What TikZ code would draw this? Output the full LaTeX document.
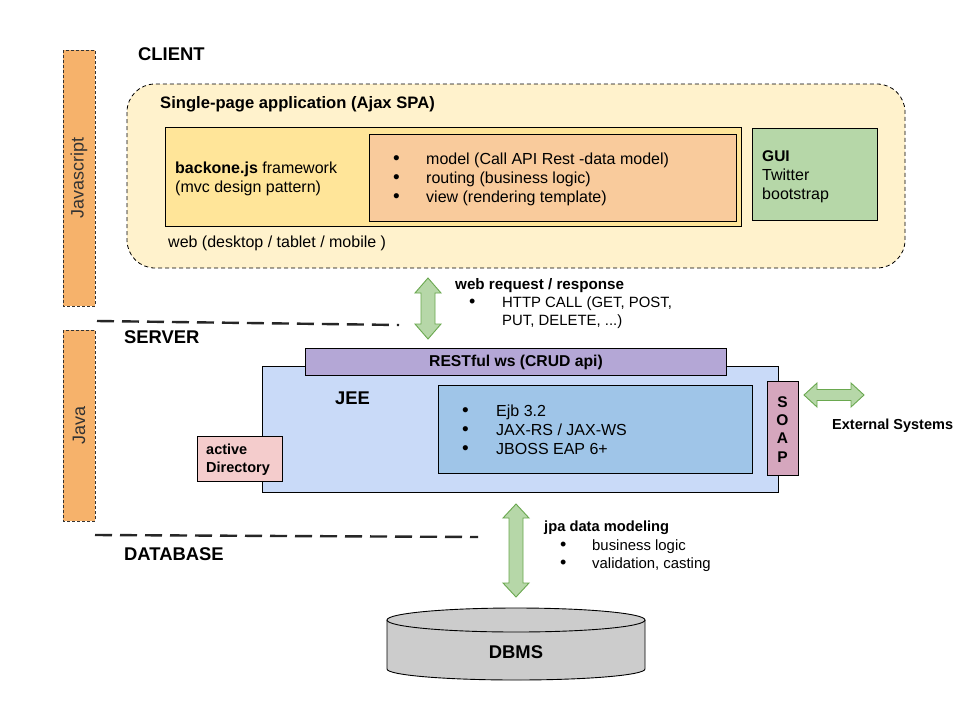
\documentclass[tikz,border=0pt]{standalone}
\usepackage{fontspec}
\setmainfont{Liberation Sans}
\definecolor{clientfill}{HTML}{FFF2CC}
\definecolor{bbfill}{HTML}{FFE599}
\definecolor{listfill}{HTML}{F9CB9C}
\definecolor{guifill}{HTML}{B6D7A8}
\definecolor{jeefill}{HTML}{C9DAF8}
\definecolor{ejbfill}{HTML}{9FC5E8}
\definecolor{restfill}{HTML}{B4A7D6}
\definecolor{soapfill}{HTML}{D5A6BD}
\definecolor{adfill}{HTML}{F4CCCC}
\definecolor{barfill}{HTML}{F6B26B}
\definecolor{dbfill}{HTML}{CCCCCC}
\definecolor{arrfill}{HTML}{B6D7A8}
\definecolor{arrline}{HTML}{6AA84F}
\definecolor{bartext}{HTML}{333333}
\tikzset{
  box/.style={draw=black, line width=0.9pt, inner sep=0},
  txt/.style={inner sep=0, anchor=base west, font=\fontsize{14.9}{17}\selectfont},
  ltxt/.style={inner sep=0, anchor=base west, font=\fontsize{16}{17}\selectfont},
  bul/.style={inner sep=0, anchor=base west, font=\fontsize{19}{17}\selectfont},
  btxt/.style={inner sep=0, anchor=base west, font=\fontsize{14.5}{17}\selectfont\bfseries},
  htxt/.style={inner sep=0, anchor=base west, font=\fontsize{18.4}{20}\selectfont\bfseries},
  bartxt/.style={inner sep=0, rotate=90, text=bartext, font=\fontsize{18}{20}\selectfont},
  bar/.style={draw=black!80, fill=barfill, dashed, dash pattern=on 3pt off 2pt, line width=0.8pt},
  sepline/.style={draw=black!85, line width=2.4pt, dash pattern=on 17pt off 8pt},
  blockarrow/.style={draw=arrline, fill=arrfill, line width=0.9pt, line join=miter},
}
\begin{document}
\begin{tikzpicture}[x=1pt,y=-1pt]
\useasboundingbox (0,0) rectangle (960,720);
\fill[white] (0,0) rectangle (960,720);

% side bars
\draw[bar] (63,50) rectangle (95,306);
\node[bartxt] (js) at (79,178) {Javascript};
\draw[bar] (63,330) rectangle (95,521);
\node[bartxt] (java) at (79,425) {Java};

% section titles
\node[htxt] (client) at (138,60.5) {CLIENT};
\node[htxt] (server) at (124,343.5) {SERVER};
\node[htxt] (database) at (124,560.5) {DATABASE};

% client box
\draw[fill=clientfill, draw=black, line width=0.8pt, dash pattern=on 4pt off 3pt, rounded corners=28pt] (127,84) rectangle (905,268);
\node[btxt, font=\fontsize{16.6}{17}\selectfont\bfseries] (spa) at (160,108.5) {Single-page application (Ajax SPA)};

\node[box, fill=bbfill, minimum width=576, minimum height=99, anchor=north west] (bb) at (165,127) {};
\node[box, fill=listfill, minimum width=367, minimum height=87, anchor=north west] (mvc) at (369,134) {};
\node[ltxt] (bb1) at (175,173) {\textbf{backone.js} framework};
\node[ltxt] (bb2) at (175,192) {(mvc design pattern)};
\node[bul] (mb1) at (393,164) {•};
\node[bul] (mb2) at (393,183) {•};
\node[bul] (mb3) at (393,202) {•};
\node[ltxt] (m1) at (426,164) {model (Call API Rest -data model)};
\node[ltxt] (m2) at (426,183) {routing (business logic)};
\node[ltxt] (m3) at (426,202) {view (rendering template)};

\node[box, fill=guifill, minimum width=125, minimum height=92, anchor=north west] (gui) at (752,128) {};
\node[btxt, font=\fontsize{15.5}{17}\selectfont\bfseries] (g1) at (762,161.5) {GUI};
\node[ltxt] (g2) at (762,180.5) {Twitter};
\node[ltxt] (g3) at (762,199.5) {bootstrap};

\node[ltxt] (web) at (168,247.5) {web (desktop / tablet / mobile )};

% arrow client-server
\draw[blockarrow] (421,293) -- (415,293) -- (428,278) -- (441,293) -- (435,293) -- (435,324) -- (441,324) -- (428,339) -- (415,324) -- (421,324) -- cycle;
\node[btxt, font=\fontsize{15.2}{17}\selectfont\bfseries] (wr) at (455,289) {web request / response};
\node[bul, font=\fontsize{18}{17}\selectfont] (wb) at (469,307) {•};
\node[txt] (w1) at (502,307) {HTTP CALL (GET, POST,};
\node[txt] (w2) at (502,325) {PUT, DELETE, ...)};

% separators
\coordinate (s1a) at (97,321);
\coordinate (s1b) at (399,325);
\draw[sepline] (s1a) -- (s1b);
\coordinate (s2a) at (95,535);
\coordinate (s2b) at (478,537);
\draw[sepline] (s2a) -- (s2b);

% server
\node[box, fill=jeefill, minimum width=516, minimum height=126, anchor=north west] (jee) at (262,366) {};
\node[box, fill=restfill, minimum width=421, minimum height=27, anchor=north west, font=\fontsize{15.7}{17}\selectfont\bfseries] (rest) at (305,348) {RESTful ws (CRUD api)};
\node[htxt] (jeet) at (335,404.5) {JEE};
\node[box, fill=ejbfill, minimum width=314, minimum height=88, anchor=north west] (ejb) at (438,385) {};
\node[bul] (eb1) at (462,416.5) {•};
\node[bul] (eb2) at (462,435.5) {•};
\node[bul] (eb3) at (462,454.5) {•};
\node[ltxt] (e1) at (496,416.5) {Ejb 3.2};
\node[ltxt] (e2) at (496,435.5) {JAX-RS / JAX-WS};
\node[ltxt] (e3) at (496,454.5) {JBOSS EAP 6+};

\node[box, fill=soapfill, minimum width=31, minimum height=94, anchor=north west] (soap) at (767,381) {};
\node[btxt, anchor=base, font=\fontsize{15.5}{17}\selectfont\bfseries] (sS) at (782.5,407.5) {S};
\node[btxt, anchor=base, font=\fontsize{15.5}{17}\selectfont\bfseries] (sO) at (782.5,425.5) {O};
\node[btxt, anchor=base, font=\fontsize{15.5}{17}\selectfont\bfseries] (sA) at (782.5,443.5) {A};
\node[btxt, anchor=base, font=\fontsize{15.5}{17}\selectfont\bfseries] (sP) at (782.5,462) {P};

\node[box, fill=adfill, minimum width=85, minimum height=45, anchor=north west] (ad) at (197,436) {};
\node[btxt] (ad1) at (206,454.5) {active};
\node[btxt] (ad2) at (206,472.5) {Directory};

% external
\draw[blockarrow] (804,395) -- (817,383) -- (817,389.5) -- (851,389.5) -- (851,383) -- (864,395) -- (851,407) -- (851,400.5) -- (817,400.5) -- (817,407) -- cycle;
\node[btxt] (ext) at (832,429.5) {External Systems};

% arrow server-db
\draw[blockarrow] (509,518) -- (503,518) -- (516,504) -- (529,518) -- (523,518) -- (523,583) -- (529,583) -- (516,597) -- (503,583) -- (509,583) -- cycle;
\node[btxt, font=\fontsize{14.7}{17}\selectfont\bfseries] (jpa) at (544,531) {jpa data modeling};
\node[bul, font=\fontsize{18}{17}\selectfont] (jb1) at (560,550) {•};
\node[bul, font=\fontsize{18}{17}\selectfont] (jb2) at (560,568) {•};
\node[txt] (j1) at (592,550) {business logic};
\node[txt] (j2) at (592,568) {validation, casting};

% DBMS cylinder
\fill[dbfill] (387,620) -- (387,669) arc[start angle=180, end angle=360, x radius=129pt, y radius=11pt] -- (645,620) -- cycle;
\draw[black, line width=0.9pt] (387,620) -- (387,669) arc[start angle=180, end angle=360, x radius=129pt, y radius=11pt] -- (645,620);
\filldraw[fill=dbfill, draw=black, line width=0.9pt] (516,620) ellipse [x radius=129pt, y radius=12pt];
\node[inner sep=0, font=\fontsize{18.4}{20}\selectfont\bfseries] (dbms) at (516,652) {DBMS};
\end{tikzpicture}
\end{document}
